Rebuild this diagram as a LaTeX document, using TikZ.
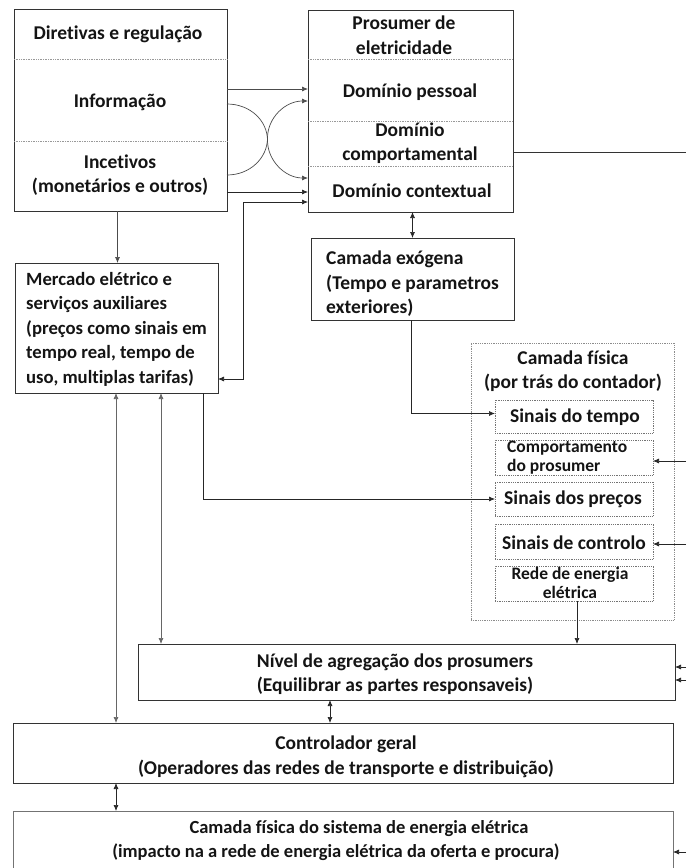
\documentclass[tikz,border=0pt]{standalone}
\usepackage{fontspec}
\setmainfont{Carlito}[Ligatures={NoCommon}]
\usetikzlibrary{arrows.meta}
\begin{document}
\begin{tikzpicture}[x=1pt,y=-1pt,
  box/.style={draw=black!80,line width=0.9pt,inner sep=0pt,outer sep=0pt,anchor=north west},
  dbox/.style={draw=black!55,densely dotted,line width=0.8pt,inner sep=0pt,outer sep=0pt,anchor=north west},
  divider/.style={draw=black!40,densely dotted,line width=0.7pt},
  lbl/.style={font=\bfseries\fontsize{19.5}{24.5}\selectfont,align=center,inner sep=0pt,text=black!92},
  lbll/.style={lbl,align=left,anchor=west},
  slbl/.style={font=\bfseries\fontsize{17.5}{19}\selectfont,inner sep=0pt,text=black!92},
  tip/.tip={Latex[length=6pt,width=5pt]},
  arr/.style={-tip,line width=0.7pt,draw=black!85},
  darr/.style={tip-tip,line width=0.7pt,draw=black!85},
  garr/.style={tip-tip,line width=0.7pt,draw=black!60},
  plain/.style={line width=0.7pt,draw=black!80}]
\useasboundingbox (0,0) rectangle (686,868);

% ---------- boxes ----------
\node[box,minimum width=213pt,minimum height=202pt] (dir) at (14,9) {};
\node[box,minimum width=205pt,minimum height=202pt] (pro) at (308,10) {};
\node[box,minimum width=203pt,minimum height=130pt] (mer) at (15,263) {};
\node[box,minimum width=203pt,minimum height=82pt] (exo) at (311,238) {};
\node[dbox,draw=black!45,minimum width=203pt,minimum height=277pt] (fis) at (471,343) {};
\node[dbox,minimum width=158pt,minimum height=33pt] (tempo) at (495,400) {};
\node[dbox,minimum width=158pt,minimum height=35pt] (comp) at (495,440) {};
\node[dbox,minimum width=158pt,minimum height=34pt] (precos) at (495,482) {};
\node[dbox,minimum width=158pt,minimum height=35pt] (ctrlo) at (495,524) {};
\node[dbox,minimum width=158pt,minimum height=35pt] (rede) at (495,566) {};
\node[box,minimum width=537pt,minimum height=56pt] (niv) at (138,644) {};
\node[box,minimum width=660pt,minimum height=60pt] (ctrl) at (13,723) {};
\coordinate (fsnw) at (13,811);
\coordinate (fsne) at (673,811);
\draw[line width=0.9pt,draw=black!55] (13,868) -- (fsnw) -- (fsne) -- (673,868);

% dividers
\draw[divider] (14,59) -- (227,59);
\draw[divider] (14,141) -- (227,141);
\draw[divider] (308,59) -- (513,59);
\draw[divider] (308,121) -- (513,121);
\draw[divider] (308,166) -- (513,166);

% ---------- texts ----------
\node[lbl] (t-dir) at (118,34) {Diretivas e regulação};
\node[lbl] (t-inf) at (120,102) {Informação};
\node[lbl] (t-inc) at (120,175) {Incetivos\\(monetários e outros)};
\node[lbl] (t-pro) at (404,35) {Prosumer de\\eletricidade};
\node[lbl] (t-pes) at (410,92) {Domínio pessoal};
\node[lbl] (t-com) at (410,143) {Domínio\\comportamental};
\node[lbl] (t-ctx) at (412,191) {Domínio contextual};
\node[lbll,font=\bfseries\fontsize{18.7}{24.5}\selectfont] (t-mer) at (26,329) {Mercado elétrico e\\serviços auxiliares\\(preços como sinais em\\tempo real, tempo de\\uso, multiplas tarifas)};
\node[lbll] (t-exo) at (326,284) {Camada exógena\\(Tempo e parametros\\exteriores)};
\node[lbl] (t-fis) at (573,371) {Camada física\\(por trás do contador)};
\node[lbl] (t-tempo) at (575,417) {Sinais do tempo};
\node[slbl,align=left,anchor=west] (t-comp) at (507,458) {Comportamento\\do prosumer};
\node[lbl] (t-precos) at (573,499) {Sinais dos preços};
\node[lbl] (t-ctrlo) at (574,543) {Sinais de controlo};
\node[slbl,align=center] (t-rede) at (570,583) {Rede de energia\\elétrica};
\node[lbl] (t-niv) at (395,674) {Nível de agregação dos prosumers\\(Equilibrar as partes responsaveis)};
\node[lbl] (t-ctrl) at (346,757) {Controlador geral\\(Operadores das redes de transporte e distribuição)};
\node[lbl,font=\bfseries\fontsize{18.5}{24}\selectfont] (t-fisys) at (336,841) {\hspace*{46pt}Camada física do sistema de energia elétrica\\(impacto na a rede de energia elétrica da oferta e procura)};

% ---------- connectors ----------
\coordinate (xa) at (267.5,140.5);
\coordinate (xb) at (267.5,138);
% Diretivas -> Prosumer
\draw[arr,draw=black!70] ([yshift=-80pt]dir.north east) -- ([yshift=-79pt]pro.north west);
\draw[arr,draw=black!70] ([yshift=-95pt]dir.north east) .. controls +(23,0) and +(0,-20) .. (xa) .. controls +(0,20) and +(-23,0) .. ([yshift=-168pt]pro.north west);
\draw[arr,draw=black!70] ([yshift=-166pt]dir.north east) .. controls +(23,0) and +(0,20) .. (xb) .. controls +(0,-20) and +(-23,0) .. ([yshift=-91pt]pro.north west);
\draw[arr] ([yshift=-183pt]dir.north east) -- ([yshift=-182pt]pro.north west);
% Mercado <-> Prosumer (contextual)
\draw[darr] ([yshift=-116pt]mer.north east) -- ++(25,0) |- ([yshift=-192pt]pro.north west);
% Diretivas -> Mercado
\draw[arr,draw=black!70] ([xshift=-3pt]dir.south) -- ([xshift=-3pt]dir.south |- mer.north);
% Prosumer <-> Camada exogena
\draw[darr] ([xshift=2pt]pro.south) -- ([xshift=2pt]pro.south |- exo.north);
% Camada exogena -> Sinais do tempo
\draw[arr] ([xshift=-1pt]exo.south) |- ([yshift=3pt]tempo.west);
% Mercado -> Sinais dos precos
\draw[arr] ([xshift=-15pt]mer.south east) |- (precos.west);
% Mercado <-> Controlador / Nivel
\draw[garr] ([xshift=101pt]mer.south west) -- ([xshift=101pt]mer.south west |- ctrl.north);
\draw[garr] ([xshift=146pt]mer.south west) -- ([xshift=146pt]mer.south west |- niv.north);
% Rede -> Nivel
\draw[arr] ([xshift=3pt]rede.south) -- ([xshift=3pt]rede.south |- niv.north);
% Nivel <-> Controlador
\draw[darr] ([xshift=192pt]niv.south west) -- ([xshift=192pt]niv.south west |- ctrl.north);
% Controlador <-> Camada fisica do sistema
\draw[darr] ([xshift=103pt]ctrl.south west) -- ([xshift=103pt]ctrl.south west |- fsnw);
% Prosumer -> right edge
\coordinate (rp) at (686,152);
\draw[plain] (rp -| pro.east) -- (rp);
% right edge incoming arrows
\coordinate (r1) at (686,461);
\coordinate (r2) at (686,544);
\coordinate (r3) at (686,667);
\coordinate (r4) at (686,680);
\coordinate (r5) at (686,852);
\draw[arr] (r1) -- (r1 -| comp.east);
\draw[arr] (r2) -- (r2 -| ctrlo.east);
\draw[arr] (r3) -- (r3 -| niv.east);
\draw[arr] (r4) -- (r4 -| niv.east);
\draw[arr] (r5) -- (r5 -| fsne);
\end{tikzpicture}
\end{document}
